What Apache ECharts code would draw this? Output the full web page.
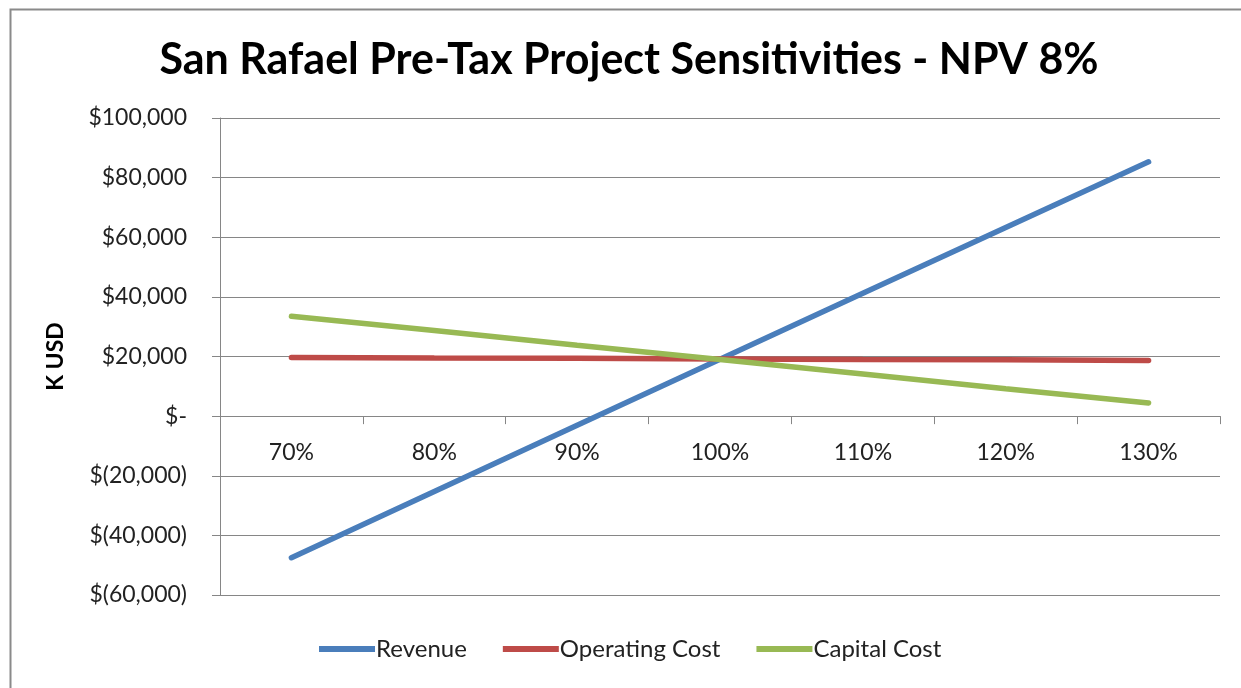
<!DOCTYPE html>
<html>
<head>
<meta charset="utf-8">
<script src="https://cdn.jsdelivr.net/npm/echarts@6/dist/echarts.min.js"></script>
<style>
html,body{margin:0;padding:0;background:#fff;}
#chart{width:1241px;height:688px;}
</style>
</head>
<body>
<div id="chart"></div>
<script>
const categories = ['70%', '80%', '90%', '100%', '110%', '120%', '130%'];
const revenue = [-47500, -25300, -3100, 19100, 41200, 63300, 85300];
const operatingCost = [19700, 19500, 19400, 19200, 19000, 18900, 18700];
const capitalCost = [33500, 28700, 23800, 19000, 14100, 9200, 4400];
const yTicks = { min: -60000, max: 100000, interval: 20000 };

const FONT = 'Lato';
function money(v) {
  if (v === 0) return '$-';
  const s = Math.abs(v).toLocaleString('en-US');
  return v < 0 ? '$(' + s + ')' : '$' + s;
}

const GRID_TOP = 118, GRID_BOTTOM = 93, H = 688;
const plotH = H - GRID_TOP - GRID_BOTTOM;
// move the category axis (line, ticks, labels) up to the zero line
const zeroOffset = -plotH * (0 - yTicks.min) / (yTicks.max - yTicks.min);

const chart = echarts.init(document.getElementById('chart'));
chart.setOption({
  backgroundColor: '#fff',
  animation: false,
  title: {
    text: 'San Rafael Pre-Tax Project Sensitivities - NPV 8%',
    left: 624, top: 34, textAlign: 'center',
    textStyle: { fontFamily: FONT, fontWeight: 'bold', fontSize: 43, color: '#000' }
  },
  graphic: [{
    type: 'rect', left: 8, top: 7, silent: true,
    shape: { width: 1250, height: 700 },
    style: { fill: 'none', stroke: '#8a8a8a', lineWidth: 2 }
  }],
  legend: {
    top: 632, left: 314,
    itemWidth: 56, itemHeight: 6, itemGap: 36,
    icon: 'rect',
    textStyle: { fontFamily: FONT, fontSize: 24, color: '#222', padding: [0, 0, 0, -4] },
    data: ['Revenue', 'Operating Cost', 'Capital Cost']
  },
  grid: { left: 220, right: 21, top: GRID_TOP, bottom: GRID_BOTTOM, containLabel: false },
  xAxis: {
    type: 'category', data: categories, boundaryGap: true,
    offset: zeroOffset,
    axisLine: { onZero: false, lineStyle: { color: '#868686', width: 1 } },
    axisTick: { show: true, length: 8, lineStyle: { color: '#868686' } },
    axisLabel: { margin: 25, fontFamily: FONT, fontSize: 23, color: '#222' },
    splitLine: { show: false }
  },
  yAxis: {
    type: 'value', min: yTicks.min, max: yTicks.max, interval: yTicks.interval,
    name: 'K USD', nameLocation: 'middle', nameGap: 153, nameRotate: 90,
    nameTextStyle: { fontFamily: FONT, fontWeight: 'bold', fontSize: 23, color: '#000' },
    axisLine: { show: true, onZero: false, lineStyle: { color: '#868686', width: 1 } },
    axisTick: { show: true, length: 8, lineStyle: { color: '#868686' } },
    axisLabel: { margin: 33, fontFamily: FONT, fontSize: 23, color: '#222', formatter: money },
    splitLine: { show: true, lineStyle: { color: '#868686', width: 1 } }
  },
  series: [
    { name: 'Revenue', type: 'line', data: revenue, symbol: 'none', smooth: false,
      lineStyle: { width: 5.5, color: '#4A7EBB', cap: 'round' }, itemStyle: { color: '#4A7EBB' } },
    { name: 'Operating Cost', type: 'line', data: operatingCost, symbol: 'none',
      lineStyle: { width: 5.5, color: '#BE4B48', cap: 'round' }, itemStyle: { color: '#BE4B48' } },
    { name: 'Capital Cost', type: 'line', data: capitalCost, symbol: 'none',
      lineStyle: { width: 5.5, color: '#98B954', cap: 'round' }, itemStyle: { color: '#98B954' } }
  ]
});
</script>
</body>
</html>
